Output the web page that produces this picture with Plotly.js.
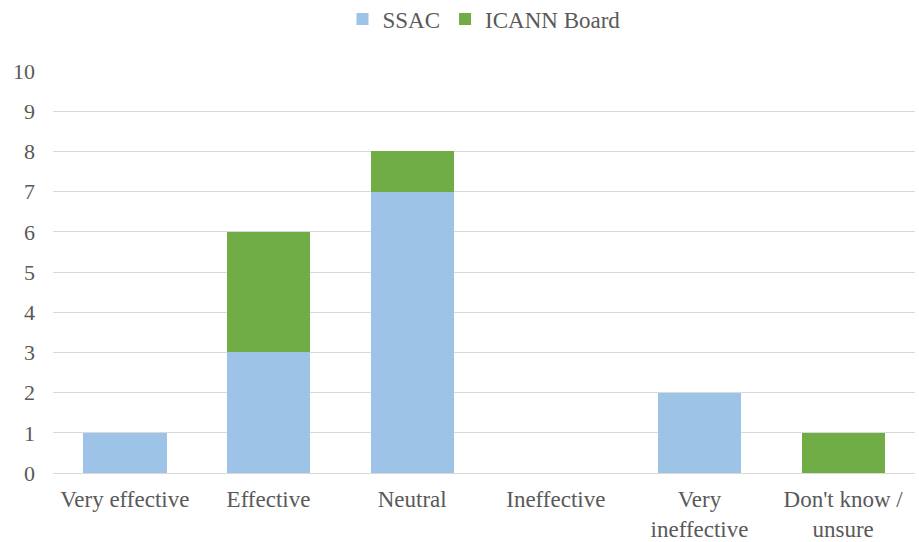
<!DOCTYPE html>
<html><head><meta charset="utf-8">
<script src="https://cdn.plot.ly/plotly-3.0.1.min.js"></script>
<style>body{margin:0;background:#fff}#c{width:919px;height:542px}</style>
</head><body><div id="c"></div>
<script>
const categories = ["Very effective", "Effective", "Neutral", "Ineffective", "Very<br>ineffective", "Don't know /<br>unsure"];
const ssac = [1, 3, 7, 0, 2, 0];
const board = [0, 3, 1, 0, 0, 1];
const fam = "Liberation Serif";
const grey = "#595959";
const data = [
  {type: "bar", name: "SSAC", x: categories, y: ssac, marker: {color: "#9DC3E6"}},
  {type: "bar", name: "ICANN Board", x: categories, y: board, marker: {color: "#70AD47"}}
];
const layout = {
  width: 919, height: 542, barmode: "stack", bargap: 0.42,
  margin: {l: 53, r: 4, t: 71, b: 69},
  font: {family: fam, size: 22, color: grey}, paper_bgcolor: "#fff", plot_bgcolor: "#fff",
  showlegend: true,
  legend: {orientation: "h", x: 0.5, xanchor: "center", yref: "container", y: 0.965, yanchor: "middle", font: {family: fam, size: 23, color: grey}, traceorder: "normal", itemwidth: 30},
  xaxis: {tickfont: {family: fam, size: 23, color: grey}, automargin: false, showgrid: false, showline: true, linecolor: "#d9d9d9", linewidth: 1, ticks: "", ticklabelstandoff: 5, fixedrange: true},
  yaxis: {range: [0, 10], dtick: 1, tickfont: {family: fam, size: 22, color: grey}, automargin: false, showgrid: true, gridcolor: "#d9d9d9", gridwidth: 1, zeroline: false, showline: false, ticks: "", ticklabelstandoff: 17, fixedrange: true}
};
Plotly.newPlot("c", data, layout, {displayModeBar: false, staticPlot: true});
</script></body></html>
